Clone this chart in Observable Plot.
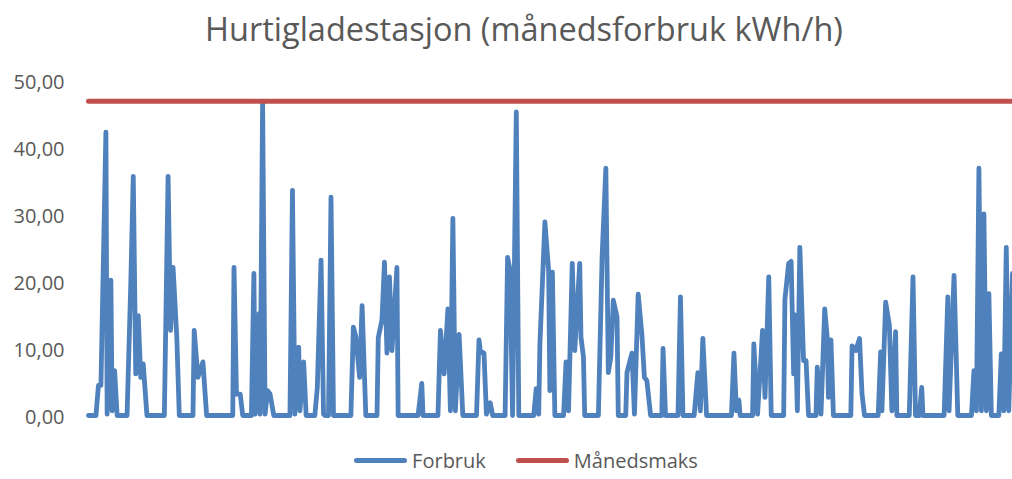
<!DOCTYPE html>
<html>
<head>
<meta charset="utf-8">
<script src="https://cdn.jsdelivr.net/npm/d3@7"></script>
<script src="https://cdn.jsdelivr.net/npm/@observablehq/plot@0.6"></script>
<style>
  html, body { margin: 0; padding: 0; background: #fff; }
  #wrap { width: 1012px; height: 479px; position: relative; font-family: "Open Sans", sans-serif; color: #595959; }
  #title { height: 62px; line-height: 58px; text-align: center; font-size: 32.5px; color: #595959; white-space: nowrap; padding-left: 36px; box-sizing: border-box; }
  #chart svg { display: block; }
  #legend { height: 38px; display: flex; justify-content: center; align-items: center; font-size: 20px; color: #595959; padding-left: 40px; box-sizing: border-box; }
  .item { display: flex; align-items: center; margin: 0 15px; }
  .sw { width: 53px; height: 5px; border-radius: 3px; margin-right: 5px; }
</style>
</head>
<body>
<div id="wrap">
  <div id="title">Hurtigladestasjon (månedsforbruk kWh/h)</div>
  <div id="chart"></div>
  <div id="legend"></div>
</div>
<script>
// Hour of the month (0..743) and consumption readings (kWh/h)
const hours = [
  0, 6, 8, 10, 14, 15, 18, 19, 21, 23,
  31, 34, 36, 38, 40, 42, 44, 47,
  61, 64, 66, 68, 71, 73,
  84, 85, 88, 92, 95,
  116, 117, 119, 122, 124,
  131, 133, 134, 137, 138, 140, 142, 144, 146, 149,
  162, 164, 166, 167, 169, 170, 173, 175,
  182, 184, 187, 189, 190, 193, 195, 197,
  211, 213, 215, 218, 220, 223,
  232, 233, 236, 238, 240, 242, 244, 248, 249,
  265, 268, 269,
  281, 283, 286, 289, 291, 293, 295, 298, 301,
  312, 314, 315, 318, 320, 323, 325,
  335, 337, 339, 341, 344, 346,
  358, 360, 362, 363, 367, 370, 371, 373, 375,
  382, 384, 386, 389, 391, 395, 396, 398, 399,
  410, 413, 416, 418, 420, 422, 425, 426,
  432, 433, 437, 439, 442, 445, 447, 449, 452,
  461, 462, 464,
  474, 476, 478,
  487, 490, 492, 494, 497,
  517, 519, 521, 523, 524,
  534, 535, 538, 542, 544, 547, 549,
  559, 560, 563, 565, 567, 568, 570, 572, 575, 577, 579,
  585, 586, 589, 592, 594, 595, 597, 599,
  613, 614, 617, 620, 622, 624,
  635, 637, 638, 641, 644, 646, 649, 650,
  660, 663, 665, 668, 670, 671,
  688, 691, 692, 696, 699,
  710, 712, 714, 716, 718, 720, 722, 724, 726,
  732, 734, 736, 738, 740, 743
];
const forbruk = [
  0.3, 0.3, 4.8, 4.8, 42.6, 0.5, 20.5, 1, 7, 0.3,
  0.3, 20, 36, 6.5, 15.2, 6, 8, 0.3,
  0.3, 36, 13, 22.4, 12, 0.3,
  0.3, 13, 6, 8.3, 0.3,
  0.3, 22.4, 3.5, 3.5, 0.3,
  0.3, 21.5, 0.5, 15.5, 0.5, 47.2, 0.5, 4, 3.5, 0.3,
  0.3, 33.9, 0.5, 6.5, 10.5, 1, 8.3, 0.3,
  0.3, 4.5, 23.5, 0.5, 0.3, 0.3, 32.9, 0.3,
  0.3, 13.5, 12, 6, 16.7, 0.3,
  0.3, 11.9, 14.6, 23.2, 9.6, 21, 10, 22.4, 0.3,
  0.3, 5.1, 0.3,
  0.3, 13, 6.5, 16.2, 1, 29.7, 1, 12.4, 0.3,
  0.3, 11.6, 10, 9.6, 0.5, 2.2, 0.3,
  0.3, 23.9, 22, 0.3, 45.6, 0.3,
  0.3, 4.3, 0.5, 11, 29.2, 21.9, 4, 21.7, 0.3,
  0.3, 8.3, 1, 23, 10, 23, 12, 9, 0.3,
  0.3, 24, 37.2, 6.7, 9, 17.5, 15, 0.3,
  0.3, 6.7, 9.6, 0.5, 18.4, 12.4, 6, 5.5, 0.3,
  0.3, 10.3, 0.3,
  0.3, 18, 0.3,
  0.3, 6.7, 1, 11.8, 0.3,
  0.3, 9.6, 1, 2.6, 0.3,
  0.3, 11, 0.5, 13, 3, 21, 0.3,
  0.3, 17.6, 23, 23.3, 6.5, 15.3, 1, 25.4, 8.5, 8.5, 0.3,
  0.3, 7.5, 0.5, 16.2, 12, 3, 11.6, 0.3,
  0.3, 10.7, 10, 11.8, 3.5, 0.3,
  0.3, 9.8, 1, 17.2, 13.8, 1, 12.8, 0.3,
  0.3, 21, 0.3, 0.3, 4.5, 0.3,
  0.3, 18, 1, 21.2, 0.3,
  0.3, 7, 1, 37.2, 1, 30.4, 1, 18.5, 0.3,
  0.3, 9.5, 1, 25.4, 1, 21.5
];
const manedsmaks = 47.2;
const yTicks = [0, 10, 20, 30, 40, 50];
const seriesNames = ["Forbruk", "Månedsmaks"];
const seriesColors = ["#4F81BD", "#C0504D"];

const data = hours.map((h, i) => ({hour: h, value: forbruk[i]}));
const maxData = [{hour: hours[0], value: manedsmaks}, {hour: hours[hours.length - 1], value: manedsmaks}];

const chart = Plot.plot({
  width: 1012,
  height: 379,
  marginLeft: 88,
  marginRight: 0,
  marginTop: 20,
  marginBottom: 24,
  style: {fontFamily: "Open Sans, sans-serif", fontSize: "20px", color: "#595959", background: "#fff"},
  x: {domain: [hours[0], hours[hours.length - 1]], axis: null},
  y: {domain: [0, 50], ticks: yTicks, tickSize: 0, tickPadding: 24, label: null,
      tickFormat: d => d.toFixed(2).replace(".", ",")},
  marks: [
    Plot.line(data, {x: "hour", y: "value", stroke: seriesColors[0], strokeWidth: 4.8,
      strokeLinejoin: "round", strokeLinecap: "round"}),
    Plot.line(maxData, {x: "hour", y: "value", stroke: seriesColors[1], strokeWidth: 5})
  ]
});
document.getElementById("chart").appendChild(chart);

const legend = document.getElementById("legend");
seriesNames.forEach((n, i) => {
  const it = document.createElement("div");
  it.className = "item";
  const sw = document.createElement("div");
  sw.className = "sw";
  sw.style.background = seriesColors[i];
  const t = document.createElement("span");
  t.textContent = n;
  it.appendChild(sw); it.appendChild(t);
  legend.appendChild(it);
});
</script>
</body>
</html>
